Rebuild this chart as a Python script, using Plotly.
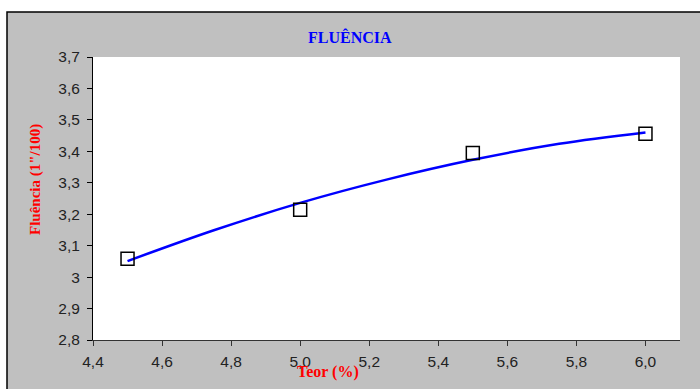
import plotly.graph_objects as go

# data points
teor = [4.5, 5.0, 5.5, 6.0]
fluencia = [3.058, 3.214, 3.395, 3.456]

# trend line
trend_x = [4.5, 4.75, 5.0, 5.25, 5.5, 5.75, 6.0]
trend_y = [3.051, 3.149, 3.236, 3.310, 3.373, 3.424, 3.460]

x_ticks = [4.4, 4.6, 4.8, 5.0, 5.2, 5.4, 5.6, 5.8, 6.0]
x_ticktext = ["4,4", "4,6", "4,8", "5,0", "5,2", "5,4", "5,6", "5,8", "6,0"]
y_ticks = [2.8, 2.9, 3.0, 3.1, 3.2, 3.3, 3.4, 3.5, 3.6, 3.7]
y_ticktext = ["2,8", "2,9", "3", "3,1", "3,2", "3,3", "3,4", "3,5", "3,6", "3,7"]

W, H = 700, 389
L, R, T, B = 93, 20, 57, 49
pw, ph = W - L - R, H - T - B

def px(x):
    return (x - L) / pw

def py(y):
    return (H - B - y) / ph

fig = go.Figure()
fig.add_trace(go.Scatter(x=trend_x, y=trend_y, mode="lines", line=dict(color="#0000ff", width=2.5, shape="spline"),
                         showlegend=False, hoverinfo="skip"))
fig.add_trace(go.Scatter(x=teor, y=fluencia, mode="markers",
                         marker=dict(symbol="square-open", size=13, color="black", line=dict(width=1.5, color="black")),
                         showlegend=False))

fig.add_shape(type="rect", xref="paper", yref="paper", x0=px(7), x1=px(720), y0=py(400), y1=py(12),
              fillcolor="#c0c0c0", line=dict(color="black", width=1.5), layer="below")
fig.add_shape(type="rect", xref="paper", yref="paper", x0=0, x1=1, y0=0, y1=1,
              fillcolor="white", line=dict(width=0), layer="below")

fig.add_annotation(text="<b>FLUÊNCIA</b>", xref="paper", yref="paper", x=px(350), y=py(37),
                   xanchor="center", yanchor="middle",
                   showarrow=False, font=dict(family="Liberation Serif", size=16, color="#0000ff"))
fig.add_annotation(text="<b>Fluência (1\"/100)</b>", xref="paper", yref="paper", x=px(35), y=py(180),
                   xanchor="center", yanchor="middle",
                   textangle=-90, showarrow=False, font=dict(family="Liberation Serif", size=15, color="#ff0000"))
fig.add_annotation(text="<b>Teor (%)</b>", xref="paper", yref="paper", x=px(328), y=py(372),
                   xanchor="center", yanchor="middle",
                   showarrow=False, font=dict(family="Liberation Serif", size=16, color="#ff0000"))

fig.update_xaxes(range=[4.4, 6.1], tickvals=x_ticks, ticktext=x_ticktext, showgrid=False, zeroline=False,
                 showline=True, linecolor="#333333", linewidth=1, ticks="outside", ticklen=5, tickcolor="#333333",
                 ticklabelstandoff=2,
                 tickfont=dict(family="Liberation Sans", size=15.5, color="#222222"))
fig.update_yaxes(range=[2.8, 3.7], tickvals=y_ticks, ticktext=y_ticktext, showgrid=False, zeroline=False,
                 showline=True, linecolor="black", linewidth=1, ticks="outside", ticklen=5, tickcolor="black",
                 ticklabelstandoff=4,
                 tickfont=dict(family="Liberation Sans", size=15.5, color="#222222"))

fig.update_layout(width=W, height=H, margin=dict(l=L, r=R, t=T, b=B), paper_bgcolor="white",
                  plot_bgcolor="white", showlegend=False)
fig.write_html("out.html")
